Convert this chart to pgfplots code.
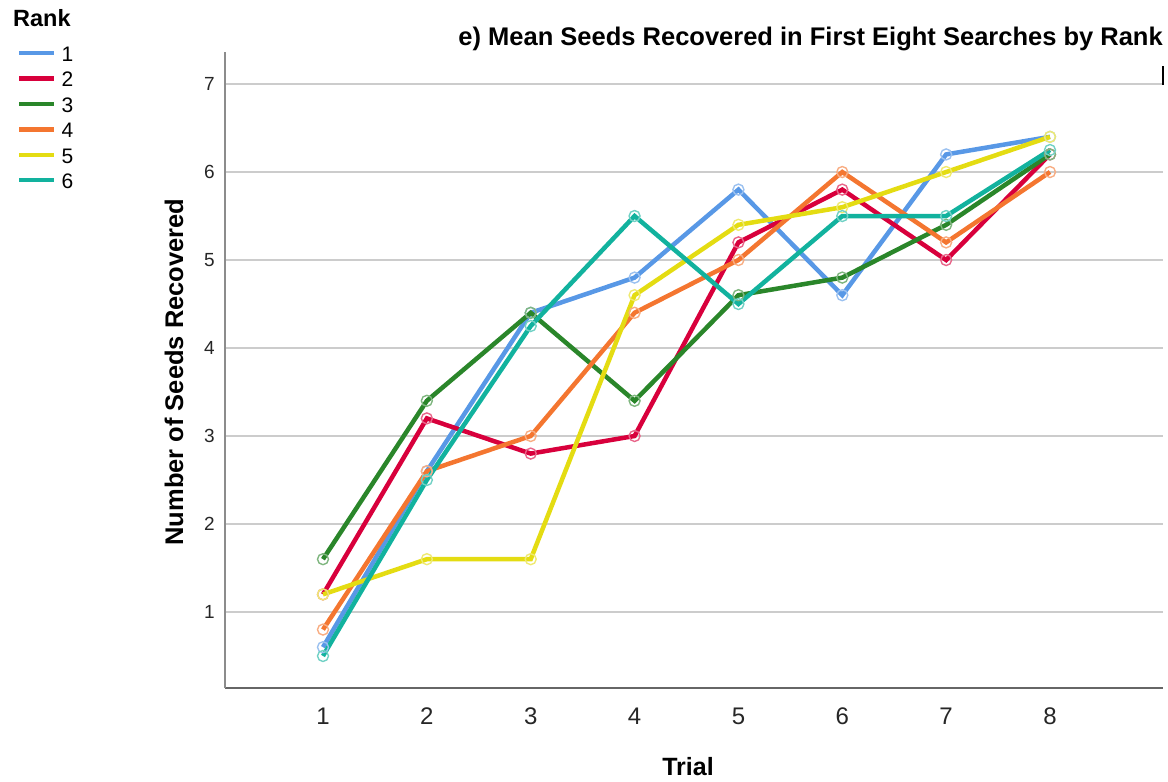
\documentclass[border=0pt]{standalone}
\usepackage{pgfplots}
\pgfplotsset{compat=1.18}
\usepackage{fontspec}
\setmainfont{Liberation Sans}
\definecolor{r1}{RGB}{88,152,230}
\definecolor{r2}{RGB}{216,0,60}
\definecolor{r3}{RGB}{42,134,42}
\definecolor{r4}{RGB}{244,118,48}
\definecolor{r5}{RGB}{228,220,18}
\definecolor{r6}{RGB}{18,178,158}
\pgfplotsset{rk/.style={#1,line width=4.5pt,mark=o,mark size=5.5pt,mark options={line width=1.4pt,draw=#1!60!white}}}
\begin{document}
\begin{tikzpicture}[x=1pt,y=1pt]
\useasboundingbox (0,0) rectangle (1168,-782);
\begin{axis}[
 at={(225pt,-688pt)},anchor=south west,
 scale only axis,width=938pt,height=636pt,
 xmin=0.0564,xmax=9.088,ymin=0.136,ymax=7.364,
 axis lines*=left,
 x axis line style={draw=black!60,line width=2pt},
 y axis line style={draw=black!45,line width=2pt},
 xtick={1,...,8},ytick={1,...,7},
 major tick length=0pt,
 ymajorgrids,grid style={draw=black!20,line width=2pt},
 /pgf/number format/assume math mode=true,
 xticklabel style={font=\fontsize{24}{24}\selectfont,anchor=base,yshift=-36pt,text=black!85},
 yticklabel style={font=\fontsize{19}{19}\selectfont,inner sep=0pt,xshift=-10pt,text=black!85},
 legend style={at={(axis description cs:-0.2217,1.0079)},anchor=north west,
   draw=none,fill=none,inner sep=0pt,outer sep=0pt,
   font=\fontsize{21}{21}\selectfont,
   nodes={inner sep=0pt},row sep=9.4pt,column sep=5pt},
 legend cell align=left,
 legend image code/.code={\draw[#1,mark=none,line width=4.5pt] (0pt,2pt) -- (35pt,2pt);},
 clip=false,
]
\addplot[rk=r1] coordinates {(1,0.6) (2,2.6) (3,4.4) (4,4.8) (5,5.8) (6,4.6) (7,6.2) (8,6.4)};
\addlegendentry{1}
\addplot[rk=r2] coordinates {(1,1.2) (2,3.2) (3,2.8) (4,3.0) (5,5.2) (6,5.8) (7,5.0) (8,6.2)};
\addlegendentry{2}
\addplot[rk=r3] coordinates {(1,1.6) (2,3.4) (3,4.4) (4,3.4) (5,4.6) (6,4.8) (7,5.4) (8,6.2)};
\addlegendentry{3}
\addplot[rk=r4] coordinates {(1,0.8) (2,2.6) (3,3.0) (4,4.4) (5,5.0) (6,6.0) (7,5.2) (8,6.0)};
\addlegendentry{4}
\addplot[rk=r5] coordinates {(1,1.2) (2,1.6) (3,1.6) (4,4.6) (5,5.4) (6,5.6) (7,6.0) (8,6.4)};
\addlegendentry{5}
\addplot[rk=r6] coordinates {(1,0.5) (2,2.5) (3,4.25) (4,5.5) (5,4.5) (6,5.5) (7,5.5) (8,6.25)};
\addlegendentry{6}
\end{axis}
\node[anchor=base west,inner sep=0pt,font=\bfseries\fontsize{23.5}{23.5}\selectfont] at (13,-26) {Rank};
\node[anchor=base east,inner sep=0pt,font=\bfseries\fontsize{25.5}{25.5}\selectfont] at (1163,-45) {e) Mean Seeds Recovered in First Eight Searches by Rank};
\node[anchor=base,inner sep=0pt,font=\bfseries\fontsize{25}{25}\selectfont] at (688,-775) {Trial};
\node[anchor=base,rotate=90,inner sep=0pt,font=\bfseries\fontsize{25.5}{25.5}\selectfont] at (183,-372) {Number of Seeds Recovered};
\fill[black] (1162,-66) rectangle (1164,-85);
\end{tikzpicture}
\end{document}
